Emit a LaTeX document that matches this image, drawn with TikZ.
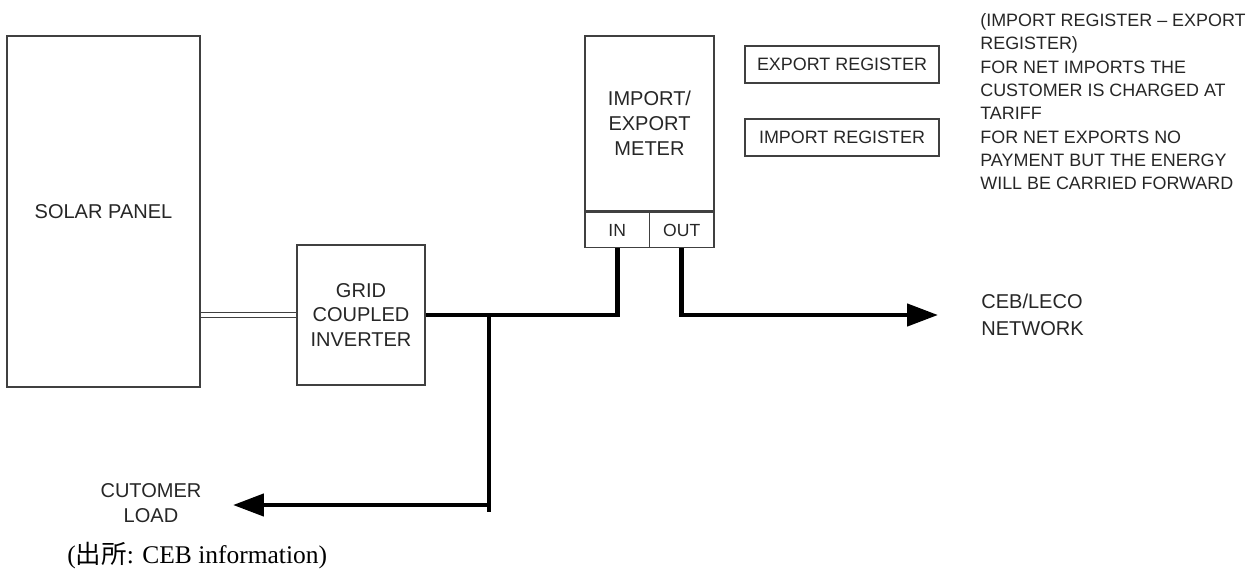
\documentclass[tikz,border=0pt]{standalone}
\usepackage{fontspec}
\setmainfont{Liberation Sans}
\newfontfamily\srcserif{Liberation Serif}
\newfontfamily\cjkfont{Noto Sans CJK JP}
\usepackage{tikz}
\usetikzlibrary{arrows.meta,positioning,calc}
\definecolor{inkgrey}{HTML}{262626}
\definecolor{boxgrey}{HTML}{404040}
\tikzset{
  unitbox/.style={draw=boxgrey, line width=0.85pt, align=center, inner sep=0pt,
    text=inkgrey, font=\fontsize{11.4}{14.2}\selectfont},
  regbox/.style={unitbox, minimum width=3.88cm, minimum height=0.74cm,
    font=\fontsize{10.2}{12}\selectfont},
  portbox/.style={unitbox, minimum height=0.7cm, font=\fontsize{10}{12}\selectfont},
  tagtext/.style={inner sep=0pt, text=inkgrey, font=\fontsize{11.4}{14.2}\selectfont},
  notetext/.style={inner sep=0pt, text=inkgrey, align=left,
    font=\fontsize{10.2}{13.3}\selectfont},
  bus/.style={draw=black, line width=2.6pt},
  feed/.style={bus, -{Triangle[length=6.2mm,width=4.4mm]}},
  dcpair/.style={draw=boxgrey, line width=0.9pt, double=white, double distance=2pt},
}
\begin{document}
\begin{tikzpicture}[x=0.02cm, y=-0.02cm]
  \useasboundingbox (0,0) rectangle (1257,571);

  \node[unitbox, minimum width=3.86cm, minimum height=7.02cm] (panel) at (103.5,211.5) {SOLAR PANEL};
  \node[unitbox, minimum width=2.56cm, minimum height=2.8cm] (inv) at (361,315) {GRID\\COUPLED\\INVERTER};
  \node[unitbox, minimum width=2.58cm, minimum height=3.5cm] (meter) at (649.5,123.5) {IMPORT/\\EXPORT\\METER};
  \node[portbox, minimum width=1.29cm, below right=0pt of meter.south west] (in) {IN};
  \node[portbox, minimum width=1.29cm, below left=0pt of meter.south east] (out) {OUT};

  \node[regbox] (expreg) at (842,64.5) {EXPORT REGISTER};
  \node[regbox] (impreg) at (842,137.5) {IMPORT REGISTER};
  \node[notetext, anchor=north west] (note) at (980,13)
    {(IMPORT REGISTER -- EXPORT\\REGISTER)\\FOR NET IMPORTS THE\\CUSTOMER IS CHARGED AT\\TARIFF\\FOR NET EXPORTS NO\\PAYMENT BUT THE ENERGY\\WILL BE CARRIED FORWARD};

  \node[tagtext, align=left, anchor=west, font=\fontsize{11.4}{15.5}\selectfont] (grid) at (981,315) {CEB/LECO\\NETWORK};
  \node[tagtext, align=center] (load) at (151,503) {CUTOMER\\LOAD};
  \node[inner sep=0pt, anchor=west, font=\srcserif\fontsize{14.5}{16}\selectfont] (src) at (67,556)
    {({\cjkfont 出所}: CEB information)};

  % dc side
  \draw[dcpair] (inv.west) -- (inv.west -| panel.east);

  % ac bus
  \coordinate (jn) at (489,316);
  \coordinate (ldend) at (489,512);
  \coordinate (ldtip) at (233,505);
  \coordinate (ntip) at (938,315);
  \draw[bus] (inv.east) -| (in.south);
  \draw[bus] (jn) -- (ldend);
  \draw[feed] (jn |- ldtip) -- (ldtip);
  \draw[feed] (out.south) |- (ntip);
\end{tikzpicture}
\end{document}
